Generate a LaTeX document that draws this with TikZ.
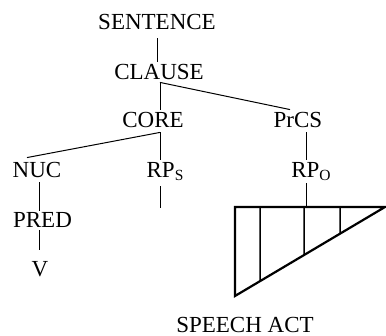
\documentclass[tikz,border=0pt]{standalone}
\usepackage{fontspec}
\setmainfont{Liberation Serif}
\usetikzlibrary{calc}
\newcommand{\subcap}[1]{\raisebox{-3pt}{\fontsize{15.5}{16}\selectfont #1}}
\begin{document}
\begin{tikzpicture}[x=1pt,y=-1pt,
  lbl/.style={inner sep=0pt,anchor=base,font=\fontsize{23}{24}\selectfont},
  edge/.style={line width=1pt},
  tri/.style={line width=2.2pt,line join=miter},
  bar/.style={line width=1.5pt}]
\useasboundingbox (0,0) rectangle (386,336);
\node[lbl] (sentence) at (157,30) {SENTENCE};
\node[lbl] (clause) at (159,80) {CLAUSE};
\node[lbl] (core) at (153,128) {CORE};
\node[lbl] (prcs) at (298,128) {PrCS};
\node[lbl] (nuc) at (37,178) {NUC};
\node[lbl] (rps) at (165,178) {RP\subcap{S}};
\node[lbl] (rpo) at (311,178) {RP\subcap{O}};
\node[lbl] (pred) at (42.5,228) {PRED};
\node[lbl] (v) at (40,277) {V};
\node[lbl] (speech) at (245,332.5) {SPEECH ACT};
\coordinate (tl) at (235,207);
\coordinate (tr) at (385,207);
\coordinate (bl) at (235,296);
\coordinate (rpsend) at (160,208);
% tree edges
\draw[edge] ([yshift=-8pt]sentence.south) -- ([xshift=-2pt,yshift=3pt]clause.north);
\draw[edge] ([xshift=1pt,yshift=-2pt]clause.south) -- ([xshift=7pt,yshift=3pt]core.north);
\draw[edge] ([xshift=1pt,yshift=-2pt]clause.south) -- ([xshift=-8pt,yshift=3pt]prcs.north);
\draw[edge] ([xshift=8pt,yshift=-4pt]prcs.south) -- ([xshift=-5pt,yshift=3pt]rpo.north);
\draw[edge] ([xshift=7pt,yshift=-4pt]core.south) -- ([xshift=-10pt,yshift=5pt]nuc.north);
\draw[edge] ([xshift=7pt,yshift=-4pt]core.south) -- ([xshift=-5pt,yshift=3pt]rps.north);
\draw[edge] ([xshift=2pt,yshift=-4pt]nuc.south) -- ([xshift=-3.5pt,yshift=2pt]pred.north);
\draw[edge] ([xshift=-3.5pt,yshift=-2pt]pred.south) -- ([xshift=-1pt,yshift=12pt]v.north);
\draw[edge] ([xshift=-5pt,yshift=-5pt]rps.south) -- (rpsend);
\draw[edge] ([xshift=-5pt,yshift=-2pt]rpo.south) -- ([xshift=-5pt]rpo.south |- tl);
% speech act triangle
\draw[tri] (tl) -- (tr) -- (bl) -- cycle;
\draw[bar] ($(tl)+(25,0)$) -- ($(bl)!0.1667!(tr)$);
\draw[bar] ($(tl)+(69,0)$) -- ($(bl)!0.46!(tr)$);
\draw[bar] ($(tl)+(105,0)$) -- ($(bl)!0.7!(tr)$);
\end{tikzpicture}
\end{document}
